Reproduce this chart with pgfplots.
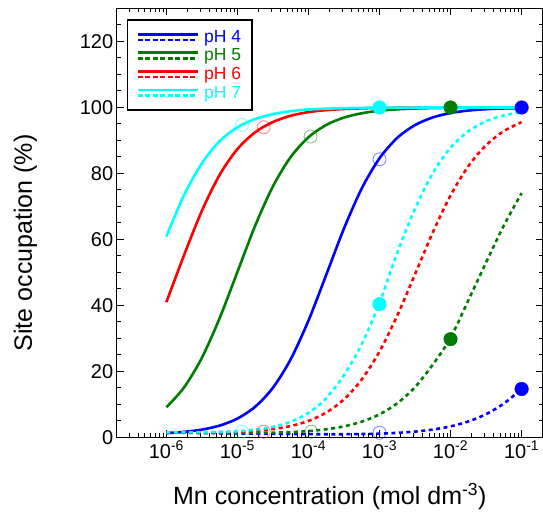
\documentclass[border=0pt]{standalone}
\usepackage{fontspec}
\setmainfont{Liberation Sans}
\usepackage{pgfplots}
\pgfplotsset{compat=1.18}
\usepackage{pgfplotstable}
\definecolor{cgreen}{RGB}{0,125,0}
\definecolor{ccyan}{RGB}{0,255,255}
\definecolor{cblue}{RGB}{0,0,255}
\definecolor{cred}{RGB}{255,0,0}

\pgfplotstableread{
x        bs     gs     rs     cs     bd     gd     rd     cd
1e-6     1.33   9.15   41.0   60.9   1.50   1.53   1.57   1.57
1.778e-6 1.71   15.19  55.3   73.5   1.44   1.47   1.54   1.55
3.162e-6 2.39   24.15  68.7   83.1   1.36   1.41   1.54   1.57
5.623e-6 3.61   36.16  79.6   89.8   1.29   1.38   1.60   1.67
1e-5     5.74   50.17  87.4   94.0   1.22   1.36   1.74   1.90
1.778e-5 9.32   64.17  92.5   96.5   1.16   1.39   2.03   2.36
3.162e-5 15.08  76.10  95.6   98.0   1.10   1.47   2.55   3.22
5.623e-5 23.71  84.99  97.5   98.9   1.05   1.64   3.48   4.77
1e-4     35.42  90.97  98.6   99.4   1.01   1.95   5.02   7.44
1.778e-4 49.29  94.71  99.2   99.64  0.99   2.49   7.56   11.90
3.162e-4 63.33  96.95  99.55  99.80  1.00   3.37   11.55  18.88
5.623e-4 75.48  98.26  99.74  99.89  1.06   4.80   17.58  28.30
1e-3     84.62  99.02  99.86  99.94  1.17   7.01   26.05  40.80
1.778e-3 90.80  99.44  99.92  99.97  1.41   10.37  36.95  55.99
3.162e-3 94.68  99.69  99.95  99.98  1.79   15.26  49.48  69.34
5.623e-3 96.99  99.82  99.97  99.99  2.41   22.09  62.14  80.12
1e-2     98.33  99.90  99.99  99.99  3.37   30.20  73.35  87.80
1.778e-2 99.08  99.94  100    100    4.86   41.56  82.22  92.80
3.162e-2 99.49  99.97  100    100    7.07   53.04  88.58  95.83
5.623e-2 99.71  99.98  100    100    10.30  64.24  92.85  97.60
1e-1     99.81  99.99  100    100    14.70  74.05  95.56  98.59
}\data

\pgfplotsset{
  twoline/.style={legend image code/.code={
    \draw[solid, line width=2.6pt] (0pt,2.8pt) -- (60pt,2.8pt);
    \draw[line width=2.6pt, dash pattern=on 5pt off 2.5pt] (0pt,-2.8pt) -- (60pt,-2.8pt);
  }},
  sol/.style={smooth, line width=2.6pt, solid},
  dot/.style={smooth, line width=2.6pt, dash pattern=on 4pt off 3.5pt},
  openm/.style={only marks, mark=o, mark size=6.5pt, mark options={line width=0.8pt, draw opacity=0.5}},
  fillm/.style={only marks, mark=*, mark size=6.8pt},
}

\begin{document}
\begin{tikzpicture}
\begin{axis}[
  scale only axis, width=426.3pt, height=429pt,
  xmode=log, xmin=2e-7, xmax=2e-1, ymin=0, ymax=130,
  xtick={1e-6,1e-5,1e-4,1e-3,1e-2,1e-1},
  xticklabels={10\textsuperscript{-6},10\textsuperscript{-5},10\textsuperscript{-4},10\textsuperscript{-3},10\textsuperscript{-2},10\textsuperscript{-1}},
  minor xtick={2e-7,3e-7,4e-7,5e-7,6e-7,7e-7,8e-7,9e-7,
    2e-6,3e-6,4e-6,5e-6,6e-6,7e-6,8e-6,9e-6,
    2e-5,3e-5,4e-5,5e-5,6e-5,7e-5,8e-5,9e-5,
    2e-4,3e-4,4e-4,5e-4,6e-4,7e-4,8e-4,9e-4,
    2e-3,3e-3,4e-3,5e-3,6e-3,7e-3,8e-3,9e-3,
    2e-2,3e-2,4e-2,5e-2,6e-2,7e-2,8e-2,9e-2},
  ytick={0,20,40,60,80,100,120},
  minor ytick={5,10,15,25,30,35,45,50,55,65,70,75,85,90,95,105,110,115,125},
  tick align=inside,
  major tick length=7pt, minor tick length=4pt,
  every major tick/.append style={line width=1.2pt, black},
  every minor tick/.append style={line width=1.0pt, black},
  axis line style={line width=1.5pt},
  /pgf/number format/assume math mode=true,
  tick label style={font=\fontsize{20}{24}\selectfont},
  xlabel={Mn concentration (mol dm\textsuperscript{-3})},
  ylabel={Site occupation (\%)},
  label style={font=\fontsize{25}{30}\selectfont},
  xlabel style={at={(axis description cs:0.5,-0.1573)}, anchor=base},
  ylabel style={at={(axis description cs:-0.1987,0.4534)}, anchor=base},
  legend style={at={(axis description cs:0.0235,0.9755)}, anchor=north west,
    draw=black, line width=1.5pt, font=\fontsize{17.5}{20}\selectfont,
    inner xsep=9pt, inner ysep=10pt, row sep=4pt, column sep=3pt,
    nodes={inner xsep=2pt, inner ysep=0.5pt}},
  legend cell align=left,
]
\addlegendimage{cblue, twoline}\addlegendentry[text=cblue]{pH 4}
\addlegendimage{cgreen, twoline}\addlegendentry[text=cgreen]{pH 5}
\addlegendimage{cred, twoline}\addlegendentry[text=cred]{pH 6}
\addlegendimage{ccyan, twoline}\addlegendentry[text=ccyan]{pH 7}

\addplot[cblue, sol, forget plot] table[x=x, y=bs] {\data};
\addplot[cgreen, sol, forget plot] table[x=x, y=gs] {\data};
\addplot[cred, sol, forget plot] table[x=x, y=rs] {\data};
\addplot[ccyan, sol, forget plot] table[x=x, y=cs] {\data};
\addplot[cblue, dot, forget plot] table[x=x, y=bd] {\data};
\addplot[cgreen, dot, forget plot] table[x=x, y=gd] {\data};
\addplot[cred, dot, forget plot] table[x=x, y=rd] {\data};
\addplot[ccyan, dot, forget plot] table[x=x, y=cd] {\data};

\addplot[ccyan, openm, forget plot] coordinates {(1.16e-5,94.7) (1.16e-5,1.76)};
\addplot[cred, openm, forget plot] coordinates {(2.34e-5,94.0) (2.34e-5,1.76)};
\addplot[cgreen, openm, forget plot] coordinates {(1.07e-4,91.2) (1.09e-4,1.76)};
\addplot[cblue, openm, forget plot] coordinates {(1e-3,84.3) (1e-3,1.45)};

\addplot[ccyan, fillm, forget plot] coordinates {(1e-3,100) (1e-3,40.4)};
\addplot[cgreen, fillm, forget plot] coordinates {(1e-2,100) (1e-2,29.8)};
\addplot[cblue, fillm, forget plot] coordinates {(1e-1,100) (1e-1,14.7)};
\end{axis}
\pgfresetboundingbox
\path (current axis.south west) ++(-116.7pt,-78.5pt) rectangle ++(543pt,516pt);
\end{tikzpicture}
\end{document}
